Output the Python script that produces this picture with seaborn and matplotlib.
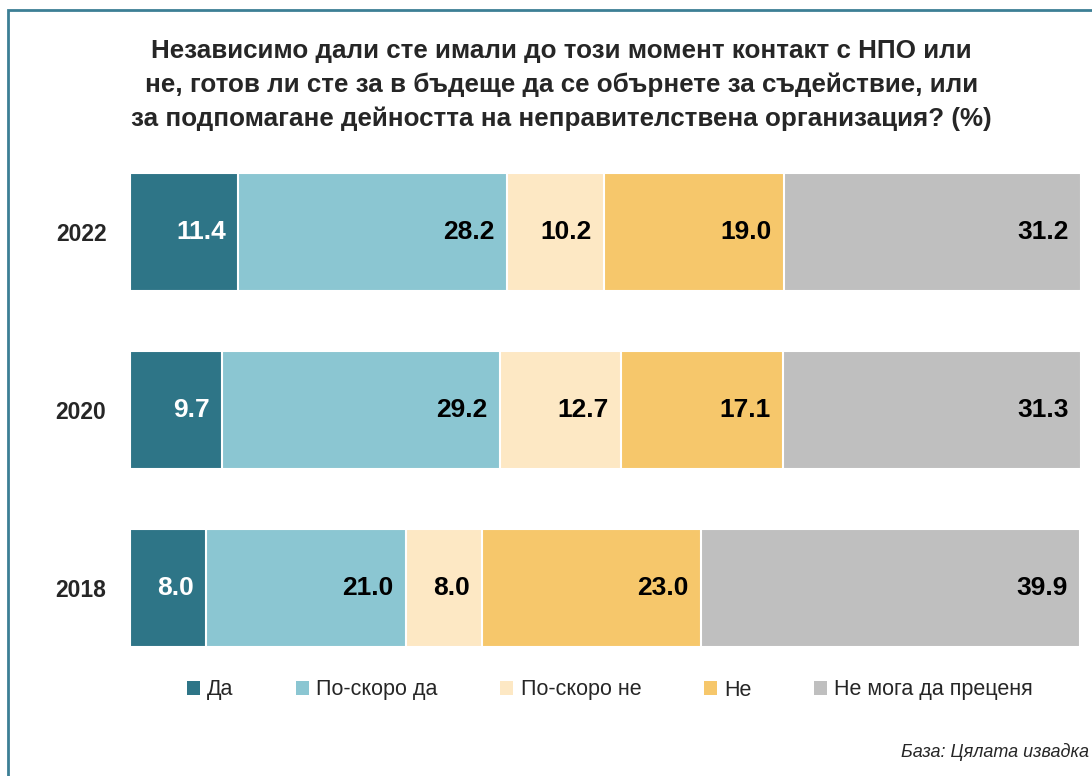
import matplotlib
matplotlib.use("Agg")
import matplotlib.pyplot as plt
import seaborn as sns
import pandas as pd
import numpy as np
from matplotlib.patches import Patch, Rectangle

years = ["2022", "2020", "2018"]
categories = ["Да", "По-скоро да", "По-скоро не", "Не", "Не мога да преценя"]
da = [11.4, 9.7, 8.0]
poskoro_da = [28.2, 29.2, 21.0]
poskoro_ne = [10.2, 12.7, 8.0]
ne = [19.0, 17.1, 23.0]
ne_moga = [31.2, 31.3, 39.9]
colors = ["#2E7587", "#8BC6D2", "#FDE8C4", "#F6C76B", "#BFBFBF"]
label_colors = ["white", "black", "black", "black", "black"]

title = ("Независимо дали сте имали до този момент контакт с НПО или\n"
         "не, готов ли сте за в бъдеще да се обърнете за съдействие, или\n"
         "за подпомагане дейността на неправителствена организация? (%)")
note = "База: Цялата извадка"

sns.set_theme(style="white")
plt.rcParams["font.family"] = ["Liberation Sans", "DejaVu Sans"]

series = [da, poskoro_da, poskoro_ne, ne, ne_moga]
cum = np.cumsum(np.array(series), axis=0)

fig = plt.figure(figsize=(10.92, 7.76), dpi=100)
ax = fig.add_axes([130/1092, 1-677/776, 951/1092, 534/776])

for i in range(len(categories) - 1, -1, -1):
    df = pd.DataFrame({"year": years, "val": cum[i]})
    sns.barplot(data=df, y="year", x="val", orient="h", color=colors[i],
                width=0.66, edgecolor="white", linewidth=1.5, ax=ax,
                saturation=1, order=years)

for i in range(len(categories)):
    for j in range(len(years)):
        ax.text(cum[i][j] - 1.3, j, f"{series[i][j]:.1f}", ha="right", va="center",
                fontsize=19, fontweight="bold", color=label_colors[i])

ax.set_xlim(0, 100)
ax.set_ylim(2.5, -0.5)
ax.set_xlabel("")
ax.set_ylabel("")
ax.set_xticks([])
ax.tick_params(axis="y", length=0, pad=17)
for lab in ax.get_yticklabels():
    lab.set_fontsize(16.5)
    lab.set_fontweight("bold")
for s in ax.spines.values():
    s.set_visible(False)

fig.text(0.514, 1-85/776, title, ha="center", va="center", fontsize=18.7,
         fontweight="bold", linespacing=1.51)

handles = [Patch(facecolor=c, edgecolor="none") for c in colors]
fig.legend(handles, categories, loc="center", bbox_to_anchor=(0.5586, 1-690/776),
           ncol=5, frameon=False, prop={"family": "Liberation Sans", "size": 15.5},
           handlelength=0.6, handleheight=0.6, handletextpad=0.35, columnspacing=2.9)

fig.text(0.997, 1-752/776, note, ha="right", va="center", fontsize=13, style="italic")

fig.add_artist(Rectangle((8/1092, -0.05), 1.2, 1-10/776 + 0.05, transform=fig.transFigure,
                         fill=False, edgecolor="#3C7F95", linewidth=2, clip_on=False))

fig.savefig("out.png", dpi=100)
